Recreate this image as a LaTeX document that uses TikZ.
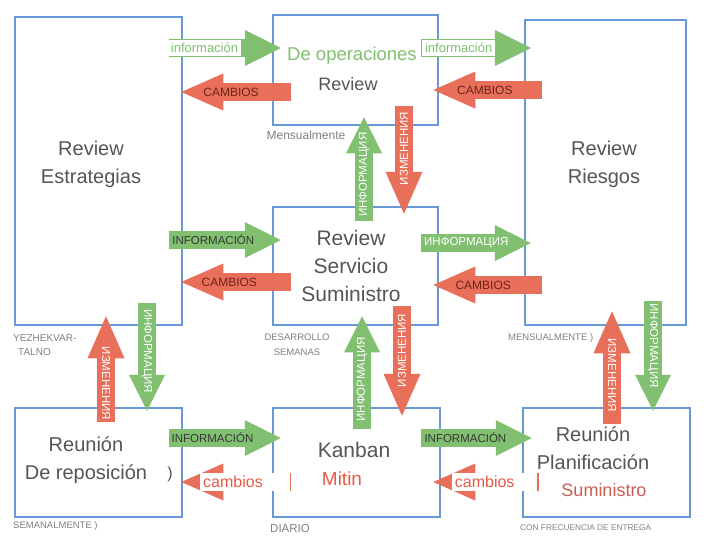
\documentclass[tikz,border=0pt]{standalone}
\usepackage{fontspec}
\setmainfont{Liberation Sans}
\usetikzlibrary{arrows.meta}

\definecolor{panelblue}{RGB}{104,152,214}
\definecolor{infogreen}{RGB}{128,192,112}
\definecolor{cambred}{RGB}{232,112,90}
\definecolor{boxtext}{RGB}{85,85,85}
\definecolor{freqgray}{RGB}{128,128,128}
\definecolor{darklbl}{RGB}{55,55,55}
\definecolor{cambtext}{RGB}{110,35,25}
\definecolor{mitinred}{RGB}{232,90,70}
\definecolor{sumred}{RGB}{200,95,85}

\begin{document}
\begin{tikzpicture}[x=1pt, y=-1pt,
    panel/.style={rectangle, draw=panelblue, line width=2.5pt},
    bigtext/.style={text=boxtext, font=\fontsize{20}{28}\selectfont, align=center},
    freq/.style={text=freqgray, align=center, inner sep=0pt},
    info/.style={draw=infogreen, line width=18pt, -{Triangle[length=36pt, width=36pt, line width=0pt]}},
    cambio/.style={draw=cambred, line width=18pt, -{Triangle[length=42pt, width=37pt, line width=0pt]}},
    infolbl/.style={text=darklbl, font=\fontsize{11.5}{12}\selectfont, inner sep=0pt},
    cambiolbl/.style={text=cambtext, font=\fontsize{12}{12}\selectfont, inner sep=0pt},
    vlbl/.style={text=white, font=\fontsize{11.5}{12}\selectfont, inner sep=0pt},
    whitelbl/.style={fill=white, inner sep=3pt}
]
    \fill[white] (0,0) rectangle (715,549);
    \useasboundingbox (0,0) rectangle (715,549);

    % Review and meeting boxes
    \node[panel, minimum width=167pt, minimum height=308pt] (estrat) at (98.5,171) {};
    \node[panel, minimum width=165pt, minimum height=110pt] (oper) at (355.5,70) {};
    \node[panel, minimum width=161pt, minimum height=305pt] (riesgo) at (605.5,172.5) {};
    \node[panel, minimum width=165pt, minimum height=118pt] (serv) at (355.5,266) {};
    \node[panel, minimum width=167pt, minimum height=109pt] (repo) at (98.5,462.5) {};
    \node[panel, minimum width=167pt, minimum height=109pt] (kanban) at (356.5,462.5) {};
    \node[panel, minimum width=167pt, minimum height=109pt] (plan) at (606.5,462.5) {};

    % Horizontal arrows, top row
    \draw[info, shorten <=-14pt, shorten >=-9pt] (estrat.east |- 0,48) -- (oper.west |- 0,48)
        node[pos=0.24, whitelbl, text=infogreen, font=\fontsize{13}{13}\selectfont] (info a) {información};
    \draw[cambio, shorten <=-19pt, shorten >=-2pt] (oper.west |- 0,92) -- (estrat.east |- 0,92)
        node[pos=0.46, cambiolbl] (camb a) {CAMBIOS};
    \draw[info, shorten <=-18pt, shorten >=-7pt] (oper.east |- 0,48) -- (riesgo.west |- 0,48)
        node[pos=0.23, whitelbl, text=infogreen, font=\fontsize{13}{13}\selectfont] (info b) {información};
    \draw[cambio, shorten <=-18pt, shorten >=-6pt] (riesgo.west |- 0,90) -- (oper.east |- 0,90)
        node[pos=0.46, cambiolbl] (camb b) {CAMBIOS};

    % Horizontal arrows, middle row
    \draw[info, shorten <=-14pt, shorten >=-9pt] (estrat.east |- 0,240) -- (serv.west |- 0,240)
        node[pos=0.34, infolbl] (info c) {INFORMACIÓN};
    \draw[cambio, shorten <=-19pt, shorten >=-2pt] (serv.west |- 0,282) -- (estrat.east |- 0,282)
        node[pos=0.48, cambiolbl] (camb c) {CAMBIOS};
    \draw[info, shorten <=-18pt, shorten >=-7pt] (serv.east |- 0,243) -- (riesgo.west |- 0,243)
        node[pos=0.32, infolbl, text=white] (info d) {ИНФОРМАЦИЯ};
    \draw[cambio, shorten <=-18pt, shorten >=-6pt] (riesgo.west |- 0,285) -- (serv.east |- 0,285)
        node[pos=0.48, cambiolbl] (camb d) {CAMBIOS};

    % Horizontal arrows, bottom row
    \draw[info, shorten <=-14pt, shorten >=-9pt] (repo.east |- 0,438) -- (kanban.west |- 0,438)
        node[pos=0.33, infolbl] (info e) {INFORMACIÓN};
    \draw[cambio, shorten <=-19pt, shorten >=-2pt] (kanban.west |- 0,482) -- (repo.east |- 0,482)
        node[pos=0.30, whitelbl, text=mitinred, text width=84pt, align=left,
             font=\fontsize{16}{16}\selectfont] (camb e) {cambios};
    \draw[info, shorten <=-20pt, shorten >=-10pt] (kanban.east |- 0,438) -- (plan.west |- 0,438)
        node[pos=0.30, infolbl] (info f) {INFORMACIÓN};
    \draw[cambio, shorten <=-17pt, shorten >=-8pt] (plan.west |- 0,482) -- (kanban.east |- 0,482)
        node[pos=0.34, whitelbl, text=mitinred, text width=79pt, align=left,
             font=\fontsize{16}{16}\selectfont] (camb f) {cambios};

    % Vertical arrows
    \draw[info, shorten <=-15pt, shorten >=-9pt] (364,0 |- serv.north) -- (364,0 |- oper.south)
        node[pos=0.39, vlbl, rotate=90] (info g) {ИНФОРМАЦИЯ};
    \draw[cambio, shorten <=-20pt, shorten >=-8pt] (404,0 |- oper.south) -- (404,0 |- serv.north)
        node[pos=0.28, vlbl, rotate=90] (camb g) {ИЗМЕНЕНИЯ};
    \draw[info, shorten <=-22pt, shorten >=-10pt] (362,0 |- kanban.north) -- (362,0 |- serv.south)
        node[pos=0.34, vlbl, rotate=90] (info h) {ИНФОРМАЦИЯ};
    \draw[cambio, shorten <=-20pt, shorten >=-9pt] (402,0 |- serv.south) -- (402,0 |- kanban.north)
        node[pos=0.30, vlbl, rotate=90] (camb h) {ИЗМЕНЕНИЯ};
    \draw[cambio, shorten <=-15pt, shorten >=-10pt] (106,0 |- repo.north) -- (106,0 |- estrat.south)
        node[pos=0.29, vlbl, rotate=-90] (camb i) {ИЗМЕНЕНИЯ};
    \draw[info, shorten <=-23pt, shorten >=-4pt] (147,0 |- estrat.south) -- (147,0 |- repo.north)
        node[pos=0.31, vlbl, rotate=-90] (info i) {ИНФОРМАЦИЯ};
    \draw[cambio, shorten <=-17pt, shorten >=-15pt] (612,0 |- plan.north) -- (612,0 |- riesgo.south)
        node[pos=0.39, vlbl, rotate=-90] (camb j) {ИЗМЕНЕНИЯ};
    \draw[info, shorten <=-25pt, shorten >=-4pt] (653,0 |- riesgo.south) -- (653,0 |- plan.north)
        node[pos=0.24, vlbl, rotate=-90] (info j) {ИНФОРМАЦИЯ};

    % Box titles
    \node[bigtext] (estrat txt) at (91,164) {Review\\Estrategias};
    \node[bigtext, text=infogreen, font=\fontsize{18.5}{20}\selectfont] (oper ttl) at (352,56) {De operaciones};
    \node[bigtext, font=\fontsize{18}{20}\selectfont] (oper txt) at (348,84) {Review};
    \node[bigtext] (riesgo txt) at (604,164) {Review\\Riesgos};
    \node[bigtext, font=\fontsize{21}{28}\selectfont] (serv txt) at (351,266) {Review\\Servicio\\Suministro};
    \node[bigtext] (repo txt) at (86,460) {Reunión\\De reposición};
    \node[bigtext, font=\fontsize{16}{16}\selectfont] (repo paren) at (170,474) {)};
    \node[bigtext, font=\fontsize{21}{22}\selectfont] (kanban txt) at (354,450) {Kanban};
    \node[bigtext, text=mitinred, font=\fontsize{19}{20}\selectfont] (kanban mit) at (342,479) {Mitin};
    \node[bigtext] (plan txt) at (593,448) {Reunión\\Planificación};
    \node[bigtext, text=sumred, font=\fontsize{18}{20}\selectfont] (plan sum) at (604,490) {Suministro};

    % Frequencies
    \node[freq, font=\fontsize{12}{12}\selectfont] (oper freq) at (306,135) {Mensualmente};
    \node[freq, font=\fontsize{10}{14}\selectfont, align=left, anchor=north west] (estrat freq) at (13,334) {YEZHEKVAR-\\\hspace{5pt}TALNO};
    \node[freq, font=\fontsize{9.5}{15}\selectfont] (serv freq) at (297,345) {DESARROLLO\\SEMANAS};
    \node[freq, font=\fontsize{9.5}{10}\selectfont, anchor=west] (riesgo freq) at (508,338) {MENSUALMENTE )};
    \node[freq, font=\fontsize{9.5}{10}\selectfont, anchor=west] (repo freq) at (13,526) {SEMANALMENTE )};
    \node[freq, font=\fontsize{11.5}{12}\selectfont, anchor=west] (kanban freq) at (270,529) {DIARIO};
    \node[freq, font=\fontsize{8.3}{10}\selectfont, anchor=west] (plan freq) at (520,528) {CON FRECUENCIA DE ENTREGA};
\end{tikzpicture}
\end{document}
